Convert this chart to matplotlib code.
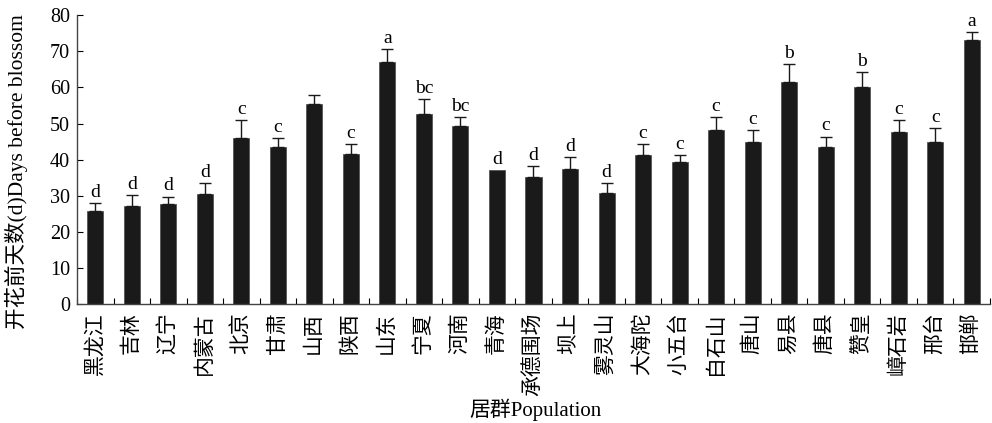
import numpy as np
import matplotlib.pyplot as plt

plt.rcParams['font.family'] = ['Liberation Serif', 'Noto Sans CJK SC']

# Populations, mean days before blossom, SE and significance letters
populations = ['黑龙江', '吉林', '辽宁', '内蒙古', '北京', '甘肃', '山西', '陕西', '山东',
               '宁夏', '河南', '青海', '承德围场', '坝上', '雾灵山', '大海陀', '小五台',
               '白石山', '唐山', '易县', '唐县', '赞皇', '嶂石岩', '邢台', '邯郸']
days = [25.8, 27.2, 27.7, 30.5, 45.9, 43.6, 55.3, 41.7, 67.0,
        52.5, 49.2, 37.1, 35.1, 37.4, 30.9, 41.2, 39.4,
        48.3, 45.0, 61.4, 43.6, 60.0, 47.7, 45.0, 73.1]
errors = [2.2, 3.1, 2.1, 3.1, 5.1, 2.3, 2.7, 2.7, 3.7,
          4.2, 2.7, 0.0, 3.2, 3.2, 2.7, 3.2, 1.8,
          3.6, 3.2, 5.1, 2.8, 4.2, 3.3, 3.7, 2.3]
letters = ['d', 'd', 'd', 'd', 'c', 'c', '', 'c', 'a',
           'bc', 'bc', 'd', 'd', 'd', 'd', 'c', 'c',
           'c', 'c', 'b', 'c', 'b', 'c', 'c', 'a']

x = np.arange(len(populations))
days = np.array(days)
errors = np.array(errors)

fig = plt.figure(figsize=(9.92, 4.23), dpi=100)
ax = fig.add_axes([0.0776, 0.2806, 0.9204, 0.6839])

ax.bar(x, days, width=0.44, color='#1a1a1a', edgecolor='#555555', linewidth=0.6, zorder=2)

has_err = errors > 0
ax.errorbar(x[has_err], days[has_err],
            yerr=[np.zeros(has_err.sum()), errors[has_err]],
            fmt='none', ecolor='#1a1a1a', elinewidth=1.0, capsize=4.3, capthick=1.0, zorder=3)

for xi, d, e, lab in zip(x, days, errors, letters):
    if lab:
        ax.annotate(lab, (xi, d + e), xytext=(0, 1.5), textcoords='offset points',
                    ha='center', va='bottom', fontsize=14)

ax.set_xlim(-0.5, len(populations) - 0.5)
ax.set_ylim(0, 80)
ax.set_yticks(np.arange(0, 81, 10))
ax.tick_params(axis='y', direction='in', length=4, labelsize=14.5, width=0.8, pad=5)

ax.set_xticks(np.arange(-0.5, len(populations), 1.0))
ax.set_xticklabels([])
ax.tick_params(axis='x', direction='in', length=4, width=0.8)
for xi, name in zip(x, populations):
    ax.text(xi, -2.2, name, rotation=90, ha='center', va='top', fontsize=15)

for side in ('top', 'right'):
    ax.spines[side].set_visible(False)
for side in ('left', 'bottom'):
    ax.spines[side].set_color('#444444')
    ax.spines[side].set_linewidth(1.0)

fig.text(16 / 992, 1 - 172 / 423, '开花前天数(d)Days before blossom', rotation=90,
         ha='center', va='center', fontsize=15.5)
fig.text(535 / 992, 1 - 410 / 423, '居群Population', ha='center', va='center', fontsize=15)

fig.savefig('out.png', dpi=100)
